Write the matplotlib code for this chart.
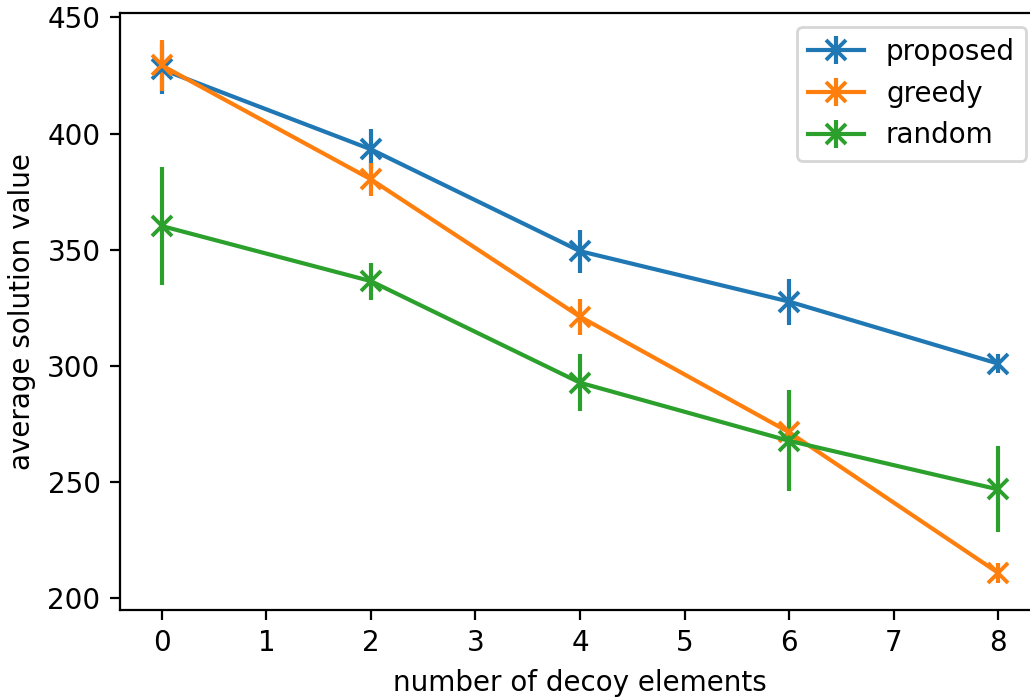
import matplotlib
matplotlib.use('Agg')
import matplotlib.pyplot as plt

decoys = [0, 2, 4, 6, 8]

proposed = [427.6, 393.2, 349.4, 327.7, 301.0]
proposed_err = [10.7, 8.6, 9.3, 9.9, 4.0]

greedy = [429.3, 380.3, 321.2, 271.5, 211.0]
greedy_err = [11.0, 7.0, 7.7, 5.0, 4.3]

random_vals = [360.2, 336.5, 292.8, 267.8, 246.9]
random_err = [25.4, 8.0, 12.3, 21.8, 18.5]

labels = ['proposed', 'greedy', 'random']

DPI = 200
fig = plt.figure(figsize=(1030 / DPI, 698 / DPI), dpi=DPI)
ax = fig.add_axes([120 / 1030, 1 - 610 / 698, 920 / 1030, (610 - 12.7) / 698])

for vals, err, lab in zip([proposed, greedy, random_vals],
                          [proposed_err, greedy_err, random_err], labels):
    ax.errorbar(decoys, vals, yerr=err, marker='x', markersize=7.5,
                markeredgewidth=1.4, linewidth=1.5, label=lab)

ax.set_xlabel('number of decoy elements')
ax.set_ylabel('average solution value')
ax.legend(loc='upper right')

fig.savefig('out.png', dpi=DPI)
